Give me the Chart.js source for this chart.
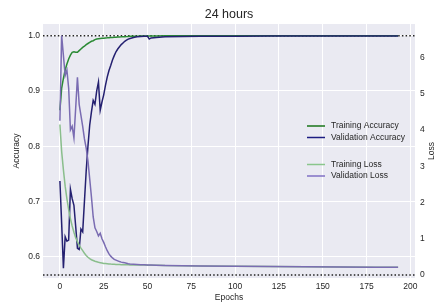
<!DOCTYPE html>
<html>
<head>
<meta charset="utf-8">
<script src="https://cdn.jsdelivr.net/npm/chart.js@4.4.1/dist/chart.umd.min.js"></script>
<style>
  html, body { margin: 0; padding: 0; background: #ffffff; }
  #c { display: block; }
</style>
</head>
<body>
<canvas id="c" width="438" height="308"></canvas>
<script>
// ---- data ----
const chartTitle = "24 hours";
const xLabel = "Epochs";
const yLabelLeft = "Accuracy";
const yLabelRight = "Loss";

const epochs = [0,1,2,3,4,5,6,7,8,9,10,11,12,13,14,15,16,17,18,19,20,21,22,23,24,25,26,27,28,29,30,31,32,33,34,35,36,37,38,39,40,
  42,44,46,48,50,51,52,55,60,70,80,100,120,140,160,180,193];

const trainAcc = [0.865,0.905,0.923,0.938,0.949,0.958,0.965,0.970,0.971,0.970,
  0.970,0.973,0.976,0.979,0.981,0.984,0.986,0.988,0.990,0.991,
  0.993,0.994,0.9945,0.995,0.9953,0.9955,0.996,0.9962,0.9965,0.9968,
  0.997,0.9972,0.9975,0.9977,0.9979,0.998,0.9982,0.9984,0.9985,0.9987,
  0.999,
  0.9991,0.9993,0.9994,0.9995,0.9996,0.9996,0.9996,0.9997,0.9998,0.9998,0.9999,0.9999,0.9999,1.0,1.0,1.0,1.0];

const valAcc = [0.737,0.66,0.579,0.636,0.628,0.630,0.722,0.705,0.693,0.655,
  0.615,0.613,0.650,0.645,0.700,0.755,0.800,0.838,0.862,0.883,
  0.876,0.900,0.916,0.865,0.880,0.893,0.910,0.925,0.937,0.946,
  0.956,0.964,0.971,0.976,0.980,0.984,0.987,0.990,0.992,0.994,
  0.995,
  0.997,0.998,0.9985,0.999,0.999,0.994,0.996,0.997,0.998,0.9985,0.999,0.9992,0.9994,0.9995,0.9996,0.9997,0.9997];

const trainLoss = [4.15,3.4,2.9,2.45,2.1,1.8,1.55,1.35,1.18,1.03,
  0.92,0.82,0.74,0.67,0.6,0.54,0.49,0.45,0.42,0.40,
  0.38,0.365,0.35,0.34,0.33,0.32,0.315,0.31,0.305,0.30,
  0.297,0.294,0.291,0.289,0.287,0.285,0.283,0.281,0.28,0.279,
  0.278,
  0.276,0.275,0.274,0.272,0.27,0.27,0.27,0.268,0.26,0.255,0.25,0.24,0.235,0.23,0.22,0.215,0.21];

const valLoss = [4.25,6.6,6.05,5.5,5.65,5.15,4.0,4.1,3.78,4.6,
  5.45,4.7,4.4,4.1,3.75,3.5,3.15,2.65,2.15,1.6,
  1.3,1.2,1.08,1.15,1.0,0.9,0.78,0.67,0.58,0.52,
  0.47,0.43,0.41,0.39,0.37,0.355,0.345,0.335,0.325,0.31,
  0.30,
  0.295,0.29,0.285,0.28,0.275,0.275,0.273,0.27,0.262,0.256,0.25,0.24,0.235,0.23,0.22,0.215,0.21];

const xTicksStep = 25;
const accTickStep = 0.1;
const lossTickStep = 1;

// ---- styling ----
const FONT = '"Liberation Sans", Arial, "DejaVu Sans", sans-serif';
const TEXT = '#262626';

function pts(vals) { return epochs.map((x, i) => ({ x: x, y: vals[i] })); }

const bgPlugin = {
  id: 'bg',
  beforeDraw(chart) {
    const { ctx, chartArea: a } = chart;
    ctx.save();
    ctx.fillStyle = '#EAEAF2';
    ctx.fillRect(a.left, a.top, a.right - a.left, a.bottom - a.top);
    ctx.restore();
  },
  beforeDatasetsDraw(chart) {
    const { ctx, chartArea: a, scales } = chart;
    ctx.save();
    ctx.strokeStyle = '#222222';
    ctx.lineWidth = 1.5;
    ctx.setLineDash([1.5, 2.2]);
    const y1 = scales.y.getPixelForValue(1.0);
    const y0 = scales.y1.getPixelForValue(0);
    ctx.beginPath();
    ctx.moveTo(a.left, y1); ctx.lineTo(a.right, y1);
    ctx.moveTo(a.left, y0); ctx.lineTo(a.right, y0);
    ctx.stroke();
    ctx.restore();
  },
  afterDraw(chart) {
    const { ctx, chartArea: a } = chart;
    ctx.save();
    ctx.fillStyle = TEXT;
    ctx.textAlign = 'center';
    ctx.textBaseline = 'middle';
    const cx = (a.left + a.right) / 2;
    const cy = (a.top + a.bottom) / 2;
    ctx.font = '12.5px ' + FONT;
    ctx.fillText(chartTitle, cx, 15);
    ctx.font = '8.5px ' + FONT;
    ctx.fillText(xLabel, cx, 298);
    ctx.save();
    ctx.translate(17, cy);
    ctx.rotate(-Math.PI / 2);
    ctx.fillText(yLabelLeft, 0, 0);
    ctx.restore();
    ctx.save();
    ctx.translate(432, cy);
    ctx.rotate(-Math.PI / 2);
    ctx.fillText(yLabelRight, 0, 0);
    ctx.restore();

    // legend (two groups)
    const items = [
      { ds: 3, y: 126 }, { ds: 2, y: 137.5 },
      { ds: 1, y: 164.5 }, { ds: 0, y: 176 }
    ];
    ctx.textAlign = 'left';
    items.forEach(it => {
      const d = chart.data.datasets[it.ds];
      ctx.strokeStyle = d.legendColor || d.borderColor;
      ctx.lineWidth = 1.5;
      ctx.beginPath();
      ctx.moveTo(a.right - 108, it.y);
      ctx.lineTo(a.right - 90, it.y);
      ctx.stroke();
      ctx.fillStyle = TEXT;
      ctx.fillText(d.label, a.right - 84, it.y);
    });
    ctx.restore();
  }
};

new Chart(document.getElementById('c'), {
  type: 'line',
  data: {
    datasets: [
      { label: 'Validation Loss', data: pts(valLoss), yAxisID: 'y1', borderColor: 'rgb(122,108,178)', legendColor: 'rgb(128,112,196)', borderWidth: 1.5, pointRadius: 0, order: 0 },
      { label: 'Training Loss', data: pts(trainLoss), yAxisID: 'y1', borderColor: 'rgb(138,190,140)', legendColor: 'rgb(138,198,140)', borderWidth: 1.5, pointRadius: 0, order: 1 },
      { label: 'Validation Accuracy', data: pts(valAcc), yAxisID: 'y', borderColor: 'rgb(36,32,112)', legendColor: 'rgb(28,28,130)', borderWidth: 1.5, pointRadius: 0, order: 2 },
      { label: 'Training Accuracy', data: pts(trainAcc), yAxisID: 'y', borderColor: 'rgb(42,138,52)', legendColor: 'rgb(24,116,24)', borderWidth: 1.5, pointRadius: 0, order: 3 }
    ]
  },
  options: {
    responsive: false,
    devicePixelRatio: 1,
    animation: false,
    events: [],
    layout: { padding: { top: 24, left: 0, right: 0, bottom: 0 } },
    plugins: { legend: { display: false }, title: { display: false }, tooltip: { enabled: false } },
    elements: { line: { tension: 0 } },
    scales: {
      x: {
        type: 'linear', min: -9.65, max: 202.65,
        ticks: { stepSize: xTicksStep, includeBounds: false, color: TEXT, font: { family: FONT, size: 8.5 }, padding: 4, maxRotation: 0 },
        grid: { color: '#ffffff', lineWidth: 1, drawTicks: false },
        border: { display: false },
        afterFit(s) { s.height = 30; }
      },
      y: {
        position: 'left', min: 0.5613, max: 1.0213,
        ticks: { stepSize: accTickStep, includeBounds: false, color: TEXT, font: { family: FONT, size: 8.5 }, padding: 3,
          callback: v => Number(v).toFixed(1) },
        grid: { color: '#ffffff', lineWidth: 1, drawTicks: false },
        border: { display: false },
        afterFit(s) { s.width = 43; }
      },
      y1: {
        position: 'right', min: -0.083, max: 6.92,
        ticks: { stepSize: lossTickStep, includeBounds: false, color: TEXT, font: { family: FONT, size: 8.5 }, padding: 5,
          callback: v => String(Math.round(v)) },
        grid: { drawOnChartArea: false, drawTicks: false },
        border: { display: false },
        afterFit(s) { s.width = 23; }
      }
    }
  },
  plugins: [bgPlugin]
});
</script>
</body>
</html>
